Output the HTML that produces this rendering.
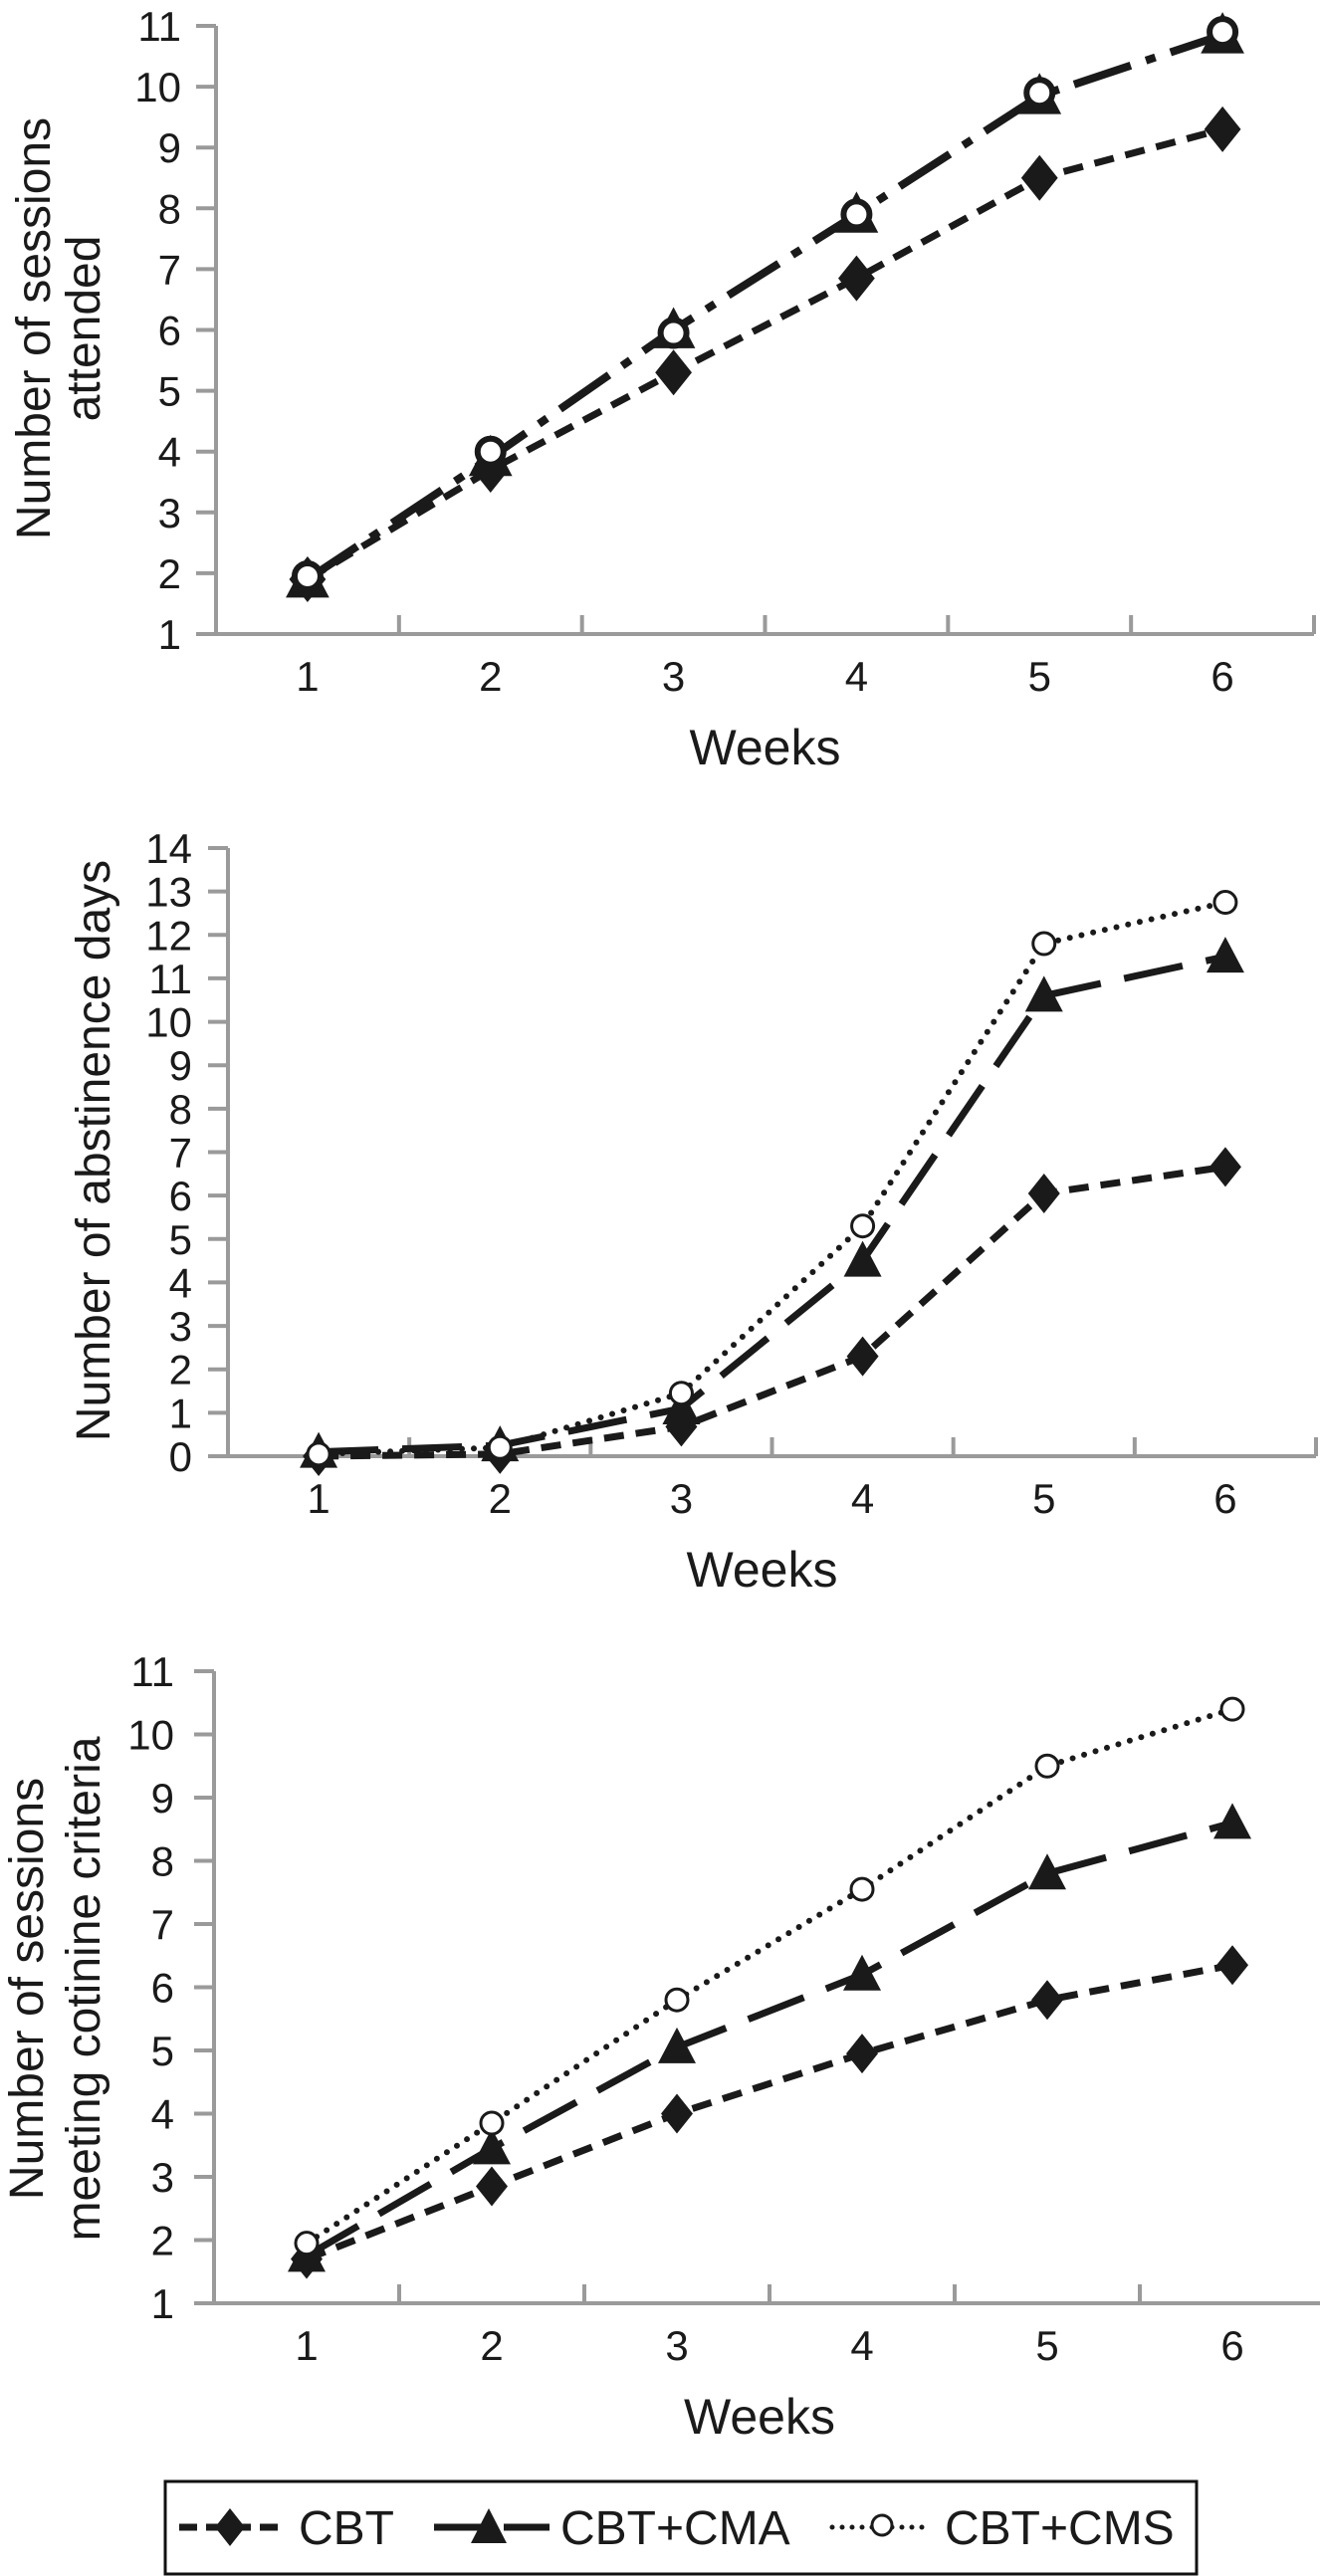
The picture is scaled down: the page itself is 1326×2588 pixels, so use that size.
<!DOCTYPE html>
<html><head><meta charset="utf-8"><style>
html,body{margin:0;padding:0;background:#fff;}
svg{display:block;font-family:"Liberation Sans",Arial,sans-serif;}
</style></head><body>
<svg id="fig" width="1326" height="2588" viewBox="0 0 1326 2588" xmlns="http://www.w3.org/2000/svg">
<g id="c1"></g>
<g id="c2"></g>
<g id="c3"></g>
<g>
  <rect x="166" y="2493" width="1036" height="93" fill="#fff" stroke="#111" stroke-width="3"/>
  <g>
    <line x1="180" y1="2539" x2="282" y2="2539" stroke="#1a1a1a" stroke-width="7" stroke-dasharray="18 9"/>
    <polygon points="231,2520 246,2539 231,2558 216,2539" fill="#1a1a1a"/>
    <text x="300" y="2556" font-size="48" fill="#1a1a1a">CBT</text>
  </g>
  <g>
    <line x1="436" y1="2539" x2="552" y2="2539" stroke="#1a1a1a" stroke-width="7" stroke-dasharray="50 20"/>
    <polygon points="491,2520 509,2555 473,2555" fill="#1a1a1a"/>
    <text x="563" y="2556" font-size="48" fill="#1a1a1a">CBT+CMA</text>
  </g>
  <g>
    <line x1="836" y1="2539" x2="936" y2="2539" stroke="#1a1a1a" stroke-width="5" stroke-dasharray="0 10" stroke-linecap="round"/>
    <circle cx="886" cy="2537" r="10" fill="#fff" stroke="#1a1a1a" stroke-width="3"/>
    <text x="949" y="2556" font-size="48" fill="#1a1a1a">CBT+CMS</text>
  </g>
</g>
</svg>
<script>
const weeks = ["1","2","3","4","5","6"];
// Chart 1: sessions attended
const c1Ticks = [1,2,3,4,5,6,7,8,9,10,11];
const c1CBT = [1.9, 3.7, 5.3, 6.85, 8.5, 9.3];
const c1CMA = [1.9, 3.9, 6.0, 7.9, 9.85, 10.85];
const c1CMS = [1.95, 4.0, 5.95, 7.9, 9.9, 10.9];
// Chart 2: abstinence days
const c2Ticks = [0,1,2,3,4,5,6,7,8,9,10,11,12,13,14];
const c2CBT = [0, 0.05, 0.68, 2.3, 6.05, 6.66];
const c2CMA = [0.1, 0.25, 1.1, 4.5, 10.6, 11.5];
const c2CMS = [0.05, 0.2, 1.45, 5.3, 11.8, 12.75];
// Chart 3: cotinine criteria
const c3Ticks = [1,2,3,4,5,6,7,8,9,10,11];
const c3CBT = [1.7, 2.85, 4.0, 4.95, 5.8, 6.35];
const c3CMA = [1.75, 3.45, 5.05, 6.2, 7.8, 8.6];
const c3CMS = [1.95, 3.85, 5.8, 7.55, 9.5, 10.4];

const NS = "http://www.w3.org/2000/svg";
function mk(parent, tag, attrs){
  const e = document.createElementNS(NS, tag);
  for (const k in attrs) e.setAttribute(k, attrs[k]);
  parent.appendChild(e);
  return e;
}
function draw(gid, L, ticks, cbt, cma, cms, chart1){
  const g = document.getElementById(gid);
  const ymin = ticks[0], ymax = ticks[ticks.length-1];
  const band = (L.right - L.x0) / weeks.length;
  const X = i => L.x0 + band*(i+0.5);
  const Y = v => L.yb - (v - ymin)/(ymax - ymin)*(L.yb - L.yt);
  const gray = "#9a9a9a";
  const ya = mk(g, "line", {x1:L.x0, y1:Y(ymax), x2:L.x0, y2:L.yb, stroke:gray, "stroke-width":4});
  
  
  const xa = mk(g, "line", {x1:L.x0-20, y1:L.yb, x2:L.right, y2:L.yb, stroke:gray, "stroke-width":4});
  
  
  ticks.forEach(t => {
    const tl = mk(g, "line", {x1:L.x0-20, y1:Y(t), x2:L.x0, y2:Y(t), stroke:gray, "stroke-width":4});
    
    
    const tx = mk(g, "text", {x:L.lblR, y:Y(t)+15, "font-size":42, "text-anchor":"end", fill:"#1a1a1a"});
    tx.textContent = t;
    
    
  });
  for (let i=1;i<=weeks.length;i++){
    const x = L.x0 + band*i;
    if (x > 1326) continue;
    const tk = mk(g, "line", {x1:x, y1:L.yb-19, x2:x, y2:L.yb, stroke:gray, "stroke-width":4});
    
    
  }
  weeks.forEach((w,i) => {
    const tx = mk(g, "text", {x:X(i), y:L.yb+57, "font-size":42, "text-anchor":"middle", fill:"#1a1a1a"});
    tx.textContent = w;
    
    
  });
  const xt = mk(g, "text", {x:L.x0 + (L.right-L.x0)/2 - (L.right>1320?10:0) , y:L.yb+131, "font-size":50, "text-anchor":"middle", fill:"#1a1a1a"});
  xt.textContent = "Weeks";
  
  
  L.title.forEach((line, k) => {
    const tt = mk(g, "text", {x:0, y:0, "font-size":48, "text-anchor":"middle", fill:"#1a1a1a",
      transform:"translate("+L.titleX[k]+","+L.titleY+") rotate(-90)"});
    tt.textContent = line;
    
    
  });
  function path(vals){ return vals.map((v,i)=>(i?"L":"M")+X(i).toFixed(1)+","+Y(v).toFixed(1)).join(" "); }
  const s1 = mk(g, "path", {d:path(cbt), fill:"none", stroke:"#1a1a1a", "stroke-width":7, "stroke-dasharray":"20 12"});
  
  
  const s2 = mk(g, "path", {d:path(cma), fill:"none", stroke:"#1a1a1a", "stroke-width":chart1?8:7, "stroke-dasharray":chart1?"60 16 10 16":"60 24"});
  
  
  const s3 = mk(g, "path", {d:path(cms), fill:"none", stroke:"#1a1a1a", "stroke-width":chart1?8:6, "stroke-linecap":"round", "stroke-dasharray":chart1?"none":"0 12", opacity:chart1?0:1});
  
  
  const ms = chart1 ? 1.15 : 1;
  cbt.forEach((v,i) => {
    const x = X(i), y = Y(v), r = 20*ms;
    const m = mk(g, "polygon", {points:`${x},${y-r} ${x+r*0.8},${y} ${x},${y+r} ${x-r*0.8},${y}`, fill:"#1a1a1a"});
    
    
  });
  cma.forEach((v,i) => {
    const x = X(i), y = Y(v), h = 20*ms;
    const m = mk(g, "polygon", {points:`${x},${y-h} ${x+h*0.95},${y+h*0.8} ${x-h*0.95},${y+h*0.8}`, fill:"#1a1a1a"});
    
    
  });
  cms.forEach((v,i) => {
    const m = mk(g, "circle", {cx:X(i), cy:Y(v), r:chart1?13:11, fill:"#fff", stroke:"#1a1a1a", "stroke-width":chart1?6:3});
    
    
  });
}
draw("c1", {x0:217, right:1320, yt:26, yb:637, lblR:182, title:["Number of sessions","attended"], titleX:[50,100], titleY:330}, c1Ticks, c1CBT, c1CMA, c1CMS, true);
draw("c2", {x0:229, right:1322, yt:852, yb:1463, lblR:193, title:["Number of abstinence days"], titleX:[110], titleY:1156}, c2Ticks, c2CBT, c2CMA, c2CMS, false);
draw("c3", {x0:215, right:1331, yt:1679, yb:2314, lblR:175, title:["Number of sessions","meeting cotinine criteria"], titleX:[43,100], titleY:1998}, c3Ticks, c3CBT, c3CMA, c3CMS, false);
</script>
</body></html>
